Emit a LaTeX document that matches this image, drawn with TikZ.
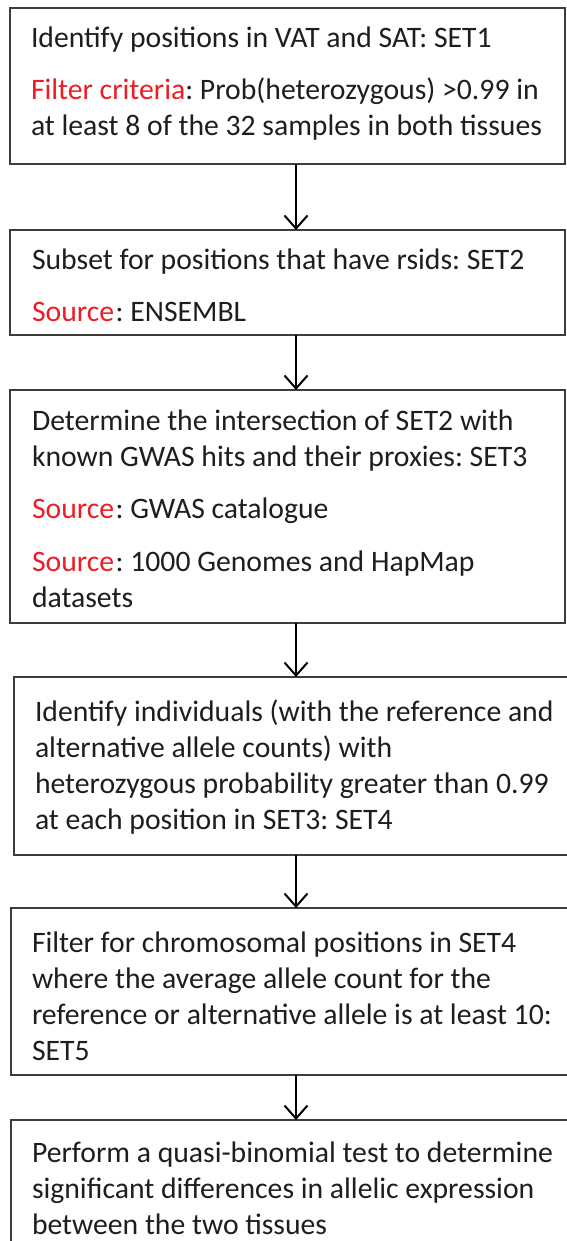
\documentclass[tikz,border=0pt]{standalone}
\usepackage{fontspec}
\setmainfont{Carlito}
\usetikzlibrary{arrows.meta}
\definecolor{boxline}{HTML}{3C3C3C}
\definecolor{ink}{HTML}{1E1E1E}
\definecolor{hilite}{HTML}{EE1C25}
\newcommand{\hl}[1]{\textcolor{hilite}{#1}}
\frenchspacing
\begin{document}
\begin{tikzpicture}[x=1bp,y=-1bp,
  stepbox/.style={draw=boxline, line width=1.8bp, fill=white, inner sep=0pt,
    outer sep=0pt, anchor=north west},
  txt/.style={anchor=north west, inner sep=0pt, outer sep=0pt, align=left,
    text=ink, font=\fontsize{29.7bp}{36.2bp}\selectfont},
  flow/.style={draw=black, line width=2bp,
    -{Straight Barb[length=13bp,width=23bp,line width=2bp]}}]
\clip (0,0) rectangle (567,1241);
\fill[white] (0,0) rectangle (567,1241);

% process boxes
\node[stepbox, minimum width=555bp, minimum height=156bp] (b1) at (10,8) {};
\node[stepbox, minimum width=555bp, minimum height=105bp] (b2) at (10,230) {};
\node[stepbox, minimum width=555bp, minimum height=233bp] (b3) at (10,390) {};
\node[stepbox, minimum width=570bp, minimum height=178bp] (b4) at (14,677) {};
\node[stepbox, minimum width=570bp, minimum height=167bp] (b5) at (11,908) {};
\node[stepbox, minimum width=570bp, minimum height=160bp] (b6) at (11,1120) {};

% box texts
\node[txt] (t1) at ([shift={(21,13.7)}]b1.north west)
  {\strut Identify positions in VAT and SAT: SET1\\[16.5bp]
   \hl{Filter criteria}: Prob(heterozygous) >0.99 in\\
   at least 8 of the 32 samples in both tissues};
\node[txt] (t2) at ([shift={(22,13.7)}]b2.north west)
  {\strut Subset for positions that have rsids: SET2\\[16.5bp]
   \hl{Source}\kern1.5bp: ENSEMBL};
\node[txt] (t3) at ([shift={(22,14.7)}]b3.north west)
  {\strut Determine the intersection of SET2 with\\
   known GWAS hits and their proxies: SET3\\[16.5bp]
   \hl{Source}\kern1.5bp: GWAS catalogue\\[16.5bp]
   \hl{Source}\kern1.5bp: 1000 Genomes and HapMap\\
   datasets};
\node[txt] (t4) at ([shift={(21,18.7)}]b4.north west)
  {\strut Identify individuals (with the reference and\\
   alternative allele counts) with\\
   heterozygous probability greater than 0.99\\
   at each position in SET3: SET4};
\node[txt] (t5) at ([shift={(21,18.7)}]b5.north west)
  {\strut Filter for chromosomal positions in SET4\\
   where the average allele count for the\\
   reference or alternative allele is at least 10:\\
   SET5};
\node[txt] (t6) at ([shift={(21,17)}]b6.north west)
  {\strut Perform a quasi-binomial test to determine\\
   significant differences in allelic expression\\
   between the two tissues};

% connectors along one vertical axis
\coordinate (ax) at (296,0);
\draw[flow] (b1.south -| ax) -- (b2.north -| ax);
\draw[flow] (b2.south -| ax) -- (b3.north -| ax);
\draw[flow] (b3.south -| ax) -- (b4.north -| ax);
\draw[flow] (b4.south -| ax) -- (b5.north -| ax);
\draw[flow] (b5.south -| ax) -- (b6.north -| ax);
\end{tikzpicture}
\end{document}
